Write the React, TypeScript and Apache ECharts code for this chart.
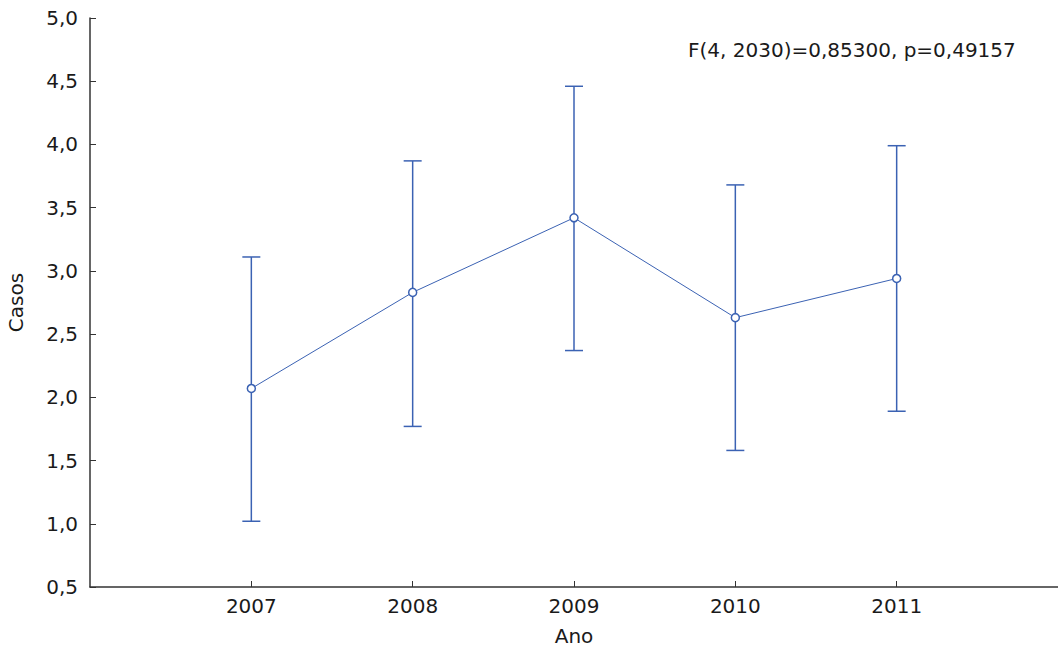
import React, { useEffect, useRef } from "react";
import * as echarts from "echarts";

const years = [2007, 2008, 2009, 2010, 2011];
const means = [2.07, 2.83, 3.42, 2.63, 2.94];
const upper = [3.11, 3.87, 4.46, 3.68, 3.99];
const lower = [1.02, 1.77, 2.37, 1.58, 1.89];
const yTicks = [0.5, 1.0, 1.5, 2.0, 2.5, 3.0, 3.5, 4.0, 4.5, 5.0];
const annotation = "F(4, 2030)=0,85300, p=0,49157";

const BLUE = "#3b62b3";
const AXIS = "#333333";
const FONT = "'DejaVu Sans', sans-serif";
const TXT = "#1a1a1a";

export default function App() {
  const ref = useRef<HTMLDivElement>(null);
  useEffect(() => {
    if (!ref.current) return;
    const chart = echarts.init(ref.current, null, { renderer: "svg" });
    const errData = years.map((y, i) => [y, lower[i], upper[i]]);
    chart.setOption({
      animation: false,
      grid: { left: 90, right: 0, top: 18, bottom: 62, containLabel: false, outerBoundsMode: "none" },
      xAxis: {
        type: "value",
        min: 2006,
        max: 2012,
        interval: 1,
        name: "Ano",
        nameLocation: "middle",
        nameGap: 39,
        nameTextStyle: { fontFamily: FONT, fontSize: 20, color: TXT },
        axisLine: { show: true, lineStyle: { color: AXIS, width: 1.5 } },
        axisTick: { show: true, inside: true, length: 6, customValues: years, lineStyle: { color: AXIS } },
        axisLabel: {
          customValues: years,
          fontFamily: FONT,
          fontSize: 20,
          color: TXT,
          margin: 9,
          formatter: (v: number) => String(v),
        },
        splitLine: { show: false },
      },
      yAxis: {
        type: "value",
        min: 0.5,
        max: 5.0,
        interval: 0.5,
        name: "Casos",
        nameLocation: "middle",
        nameGap: 64,
        nameRotate: 90,
        nameTextStyle: { fontFamily: FONT, fontSize: 20, color: TXT },
        axisLine: { show: true, lineStyle: { color: AXIS, width: 1.5 } },
        axisTick: { show: true, inside: true, length: 6, customValues: yTicks, lineStyle: { color: AXIS } },
        axisLabel: {
          customValues: yTicks,
          fontFamily: FONT,
          fontSize: 20,
          color: TXT,
          margin: 12,
          formatter: (v: number) => v.toFixed(1).replace(".", ","),
        },
        splitLine: { show: false },
      },
      graphic: [
        {
          type: "text",
          x: 688,
          y: 50,
          style: { text: annotation, fontFamily: FONT, fontSize: 20, fill: TXT, textVerticalAlign: "middle" },
        },
      ],
      series: [
        {
          type: "custom",
          data: errData,
          z: 2,
          renderItem: (params: any, api: any) => {
            const x = api.value(0);
            const lo = api.coord([x, api.value(1)]);
            const hi = api.coord([x, api.value(2)]);
            const half = 9;
            const style = { stroke: BLUE, lineWidth: 1.5, fill: "none" };
            return {
              type: "group",
              children: [
                { type: "line", shape: { x1: lo[0], y1: lo[1], x2: hi[0], y2: hi[1] }, style },
                { type: "line", shape: { x1: hi[0] - half, y1: hi[1], x2: hi[0] + half, y2: hi[1] }, style },
                { type: "line", shape: { x1: lo[0] - half, y1: lo[1], x2: lo[0] + half, y2: lo[1] }, style },
              ],
            };
          },
        },
        {
          type: "line",
          data: years.map((y, i) => [y, means[i]]),
          z: 3,
          symbol: "circle",
          symbolSize: 8,
          lineStyle: { color: BLUE, width: 1 },
          itemStyle: { color: "#ffffff", borderColor: BLUE, borderWidth: 1.5 },
        },
      ],
    });
    return () => chart.dispose();
  }, []);
  return (
    <div
      ref={ref}
      style={{ position: "fixed", left: 0, top: 0, width: 1058, height: 649, background: "#fff" }}
    />
  );
}
